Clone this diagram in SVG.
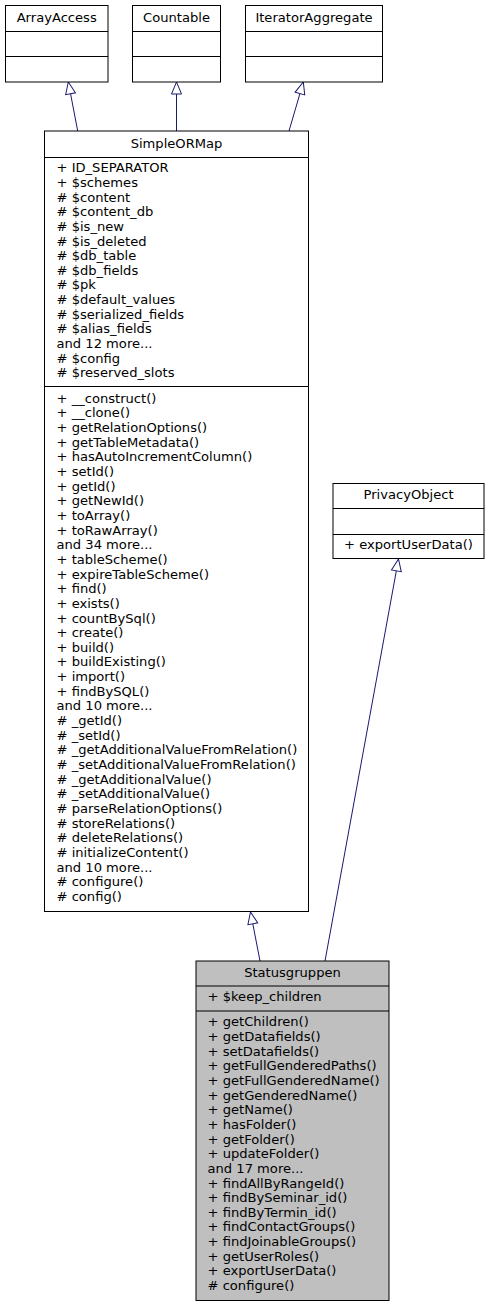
<svg xmlns="http://www.w3.org/2000/svg" width="489" height="1307" viewBox="0 0 489 1307">
<style>
  .box { fill: #ffffff; stroke: #000000; stroke-width: 1; }
  .cur { fill: #bfbfbf; stroke: #000000; stroke-width: 1; }
  .div { stroke: #000000; stroke-width: 1; }
  text { font-family: "DejaVu Sans", sans-serif; font-size: 13.1px; fill: #000000; }
  .t { text-anchor: middle; }
  .edge { fill: none; stroke: #191970; stroke-width: 1; }
</style>
<defs>
  <marker id="inh" viewBox="0 0 14 12" refX="13" refY="6" markerWidth="14" markerHeight="12" markerUnits="userSpaceOnUse" orient="auto">
    <path d="M1,1 L13,6 L1,11 Z" fill="#ffffff" stroke="#191970" stroke-width="1"/>
  </marker>
</defs>
<rect width="489" height="1307" fill="#ffffff"/>

<g id="edges">
  <line class="edge" x1="77.7" y1="131" x2="68.3" y2="82" marker-end="url(#inh)"/>
  <line class="edge" x1="176.5" y1="131" x2="176.5" y2="82" marker-end="url(#inh)"/>
  <line class="edge" x1="289" y1="131" x2="303.3" y2="82" marker-end="url(#inh)"/>
  <line class="edge" x1="260" y1="961" x2="250.5" y2="912" marker-end="url(#inh)"/>
  <line class="edge" x1="325" y1="961" x2="398.5" y2="559" marker-end="url(#inh)"/>
</g>

<g id="ArrayAccess">
  <rect class="box" x="5.5" y="5.5" width="102.5" height="76.5"/>
  <line class="div" x1="5.5" y1="31.5" x2="108" y2="31.5"/>
  <line class="div" x1="5.5" y1="56.5" x2="108" y2="56.5"/>
  <text class="t" x="56.7" y="21.7">ArrayAccess</text>
</g>

<g id="Countable">
  <rect class="box" x="132.5" y="5.5" width="88" height="76.5"/>
  <line class="div" x1="132.5" y1="31.5" x2="220.5" y2="31.5"/>
  <line class="div" x1="132.5" y1="56.5" x2="220.5" y2="56.5"/>
  <text class="t" x="176.5" y="21.7">Countable</text>
</g>

<g id="IteratorAggregate">
  <rect class="box" x="245.5" y="5.5" width="137" height="76.5"/>
  <line class="div" x1="245.5" y1="31.5" x2="382.5" y2="31.5"/>
  <line class="div" x1="245.5" y1="56.5" x2="382.5" y2="56.5"/>
  <text class="t" x="314" y="21.7">IteratorAggregate</text>
</g>

<g id="SimpleORMap">
  <rect class="box" x="44.5" y="131" width="264" height="780.5"/>
  <line class="div" x1="44.5" y1="157.5" x2="308.5" y2="157.5"/>
  <line class="div" x1="44.5" y1="386.5" x2="308.5" y2="386.5"/>
  <text class="t" x="176.5" y="147.7">SimpleORMap</text>
  <text x="56.5" y="172.3">+ ID_SEPARATOR</text>
  <text x="56.5" y="186.9">+ $schemes</text>
  <text x="56.5" y="201.6"># $content</text>
  <text x="56.5" y="216.2"># $content_db</text>
  <text x="56.5" y="230.9"># $is_new</text>
  <text x="56.5" y="245.5"># $is_deleted</text>
  <text x="56.5" y="260.1"># $db_table</text>
  <text x="56.5" y="274.8"># $db_fields</text>
  <text x="56.5" y="289.4"># $pk</text>
  <text x="56.5" y="304.1"># $default_values</text>
  <text x="56.5" y="318.7"># $serialized_fields</text>
  <text x="56.5" y="333.3"># $alias_fields</text>
  <text x="56.5" y="348.0">and 12 more...</text>
  <text x="56.5" y="362.6"># $config</text>
  <text x="56.5" y="377.3"># $reserved_slots</text>
  <text x="56.5" y="402.7">+ __construct()</text>
  <text x="56.5" y="417.4">+ __clone()</text>
  <text x="56.5" y="432.0">+ getRelationOptions()</text>
  <text x="56.5" y="446.7">+ getTableMetadata()</text>
  <text x="56.5" y="461.3">+ hasAutoIncrementColumn()</text>
  <text x="56.5" y="476.0">+ setId()</text>
  <text x="56.5" y="490.6">+ getId()</text>
  <text x="56.5" y="505.3">+ getNewId()</text>
  <text x="56.5" y="519.9">+ toArray()</text>
  <text x="56.5" y="534.6">+ toRawArray()</text>
  <text x="56.5" y="549.2">and 34 more...</text>
  <text x="56.5" y="563.9">+ tableScheme()</text>
  <text x="56.5" y="578.5">+ expireTableScheme()</text>
  <text x="56.5" y="593.2">+ find()</text>
  <text x="56.5" y="607.8">+ exists()</text>
  <text x="56.5" y="622.5">+ countBySql()</text>
  <text x="56.5" y="637.1">+ create()</text>
  <text x="56.5" y="651.8">+ build()</text>
  <text x="56.5" y="666.4">+ buildExisting()</text>
  <text x="56.5" y="681.1">+ import()</text>
  <text x="56.5" y="695.7">+ findBySQL()</text>
  <text x="56.5" y="710.4">and 10 more...</text>
  <text x="56.5" y="725.0"># _getId()</text>
  <text x="56.5" y="739.7"># _setId()</text>
  <text x="56.5" y="754.3"># _getAdditionalValueFromRelation()</text>
  <text x="56.5" y="769.0"># _setAdditionalValueFromRelation()</text>
  <text x="56.5" y="783.6"># _getAdditionalValue()</text>
  <text x="56.5" y="798.3"># _setAdditionalValue()</text>
  <text x="56.5" y="812.9"># parseRelationOptions()</text>
  <text x="56.5" y="827.6"># storeRelations()</text>
  <text x="56.5" y="842.2"># deleteRelations()</text>
  <text x="56.5" y="856.9"># initializeContent()</text>
  <text x="56.5" y="871.5">and 10 more...</text>
  <text x="56.5" y="886.2"># configure()</text>
  <text x="56.5" y="900.8"># config()</text>
</g>

<g id="PrivacyObject">
  <rect class="box" x="333" y="483.5" width="151" height="75"/>
  <line class="div" x1="333" y1="508.5" x2="484" y2="508.5"/>
  <line class="div" x1="333" y1="534.5" x2="484" y2="534.5"/>
  <text class="t" x="408.5" y="499">PrivacyObject</text>
  <text x="344" y="549">+ exportUserData()</text>
</g>

<g id="Statusgruppen">
  <rect class="cur" x="196" y="961" width="193" height="339.5"/>
  <line class="div" x1="196" y1="986" x2="389" y2="986"/>
  <line class="div" x1="196" y1="1011" x2="389" y2="1011"/>
  <text class="t" x="292.5" y="976.7">Statusgruppen</text>
  <text x="207.5" y="1001.2">+ $keep_children</text>
  <text x="207.5" y="1026.3">+ getChildren()</text>
  <text x="207.5" y="1041.0">+ getDatafields()</text>
  <text x="207.5" y="1055.6">+ setDatafields()</text>
  <text x="207.5" y="1070.3">+ getFullGenderedPaths()</text>
  <text x="207.5" y="1084.9">+ getFullGenderedName()</text>
  <text x="207.5" y="1099.6">+ getGenderedName()</text>
  <text x="207.5" y="1114.2">+ getName()</text>
  <text x="207.5" y="1128.9">+ hasFolder()</text>
  <text x="207.5" y="1143.5">+ getFolder()</text>
  <text x="207.5" y="1158.2">+ updateFolder()</text>
  <text x="207.5" y="1172.8">and 17 more...</text>
  <text x="207.5" y="1187.5">+ findAllByRangeId()</text>
  <text x="207.5" y="1202.1">+ findBySeminar_id()</text>
  <text x="207.5" y="1216.8">+ findByTermin_id()</text>
  <text x="207.5" y="1231.4">+ findContactGroups()</text>
  <text x="207.5" y="1246.1">+ findJoinableGroups()</text>
  <text x="207.5" y="1260.7">+ getUserRoles()</text>
  <text x="207.5" y="1275.4">+ exportUserData()</text>
  <text x="207.5" y="1290.0"># configure()</text>
</g>
</svg>
